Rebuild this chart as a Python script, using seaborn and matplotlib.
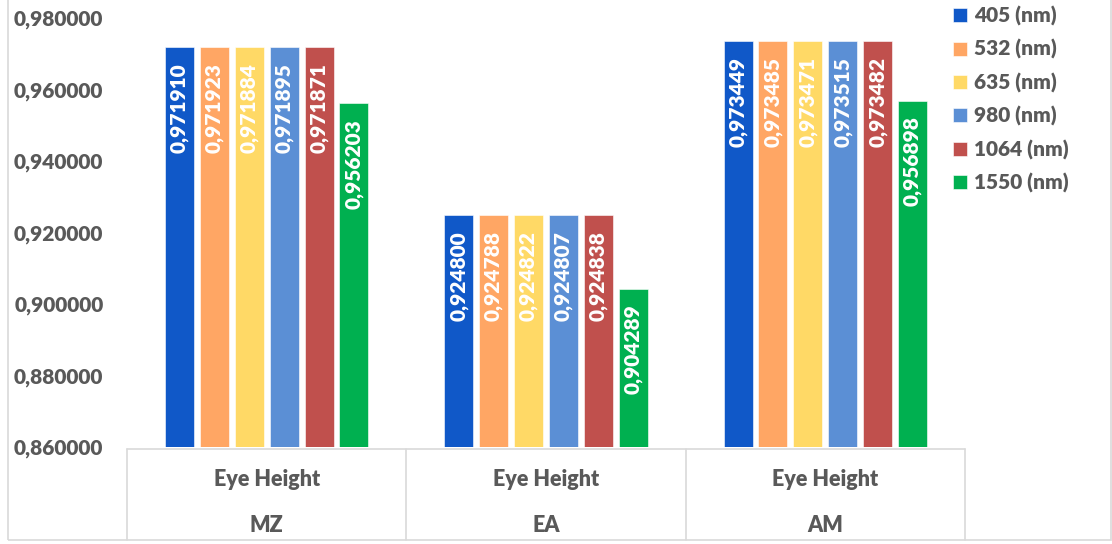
import numpy as np
import pandas as pd
import matplotlib
matplotlib.use("Agg")
import matplotlib.pyplot as plt
from matplotlib.patches import Rectangle
from matplotlib.lines import Line2D
import seaborn as sns

# Eye height per modulation format and laser wavelength
groups = ["MZ", "EA", "AM"]
subgroup = "Eye Height"
wavelengths = ["405 (nm)", "532 (nm)", "635 (nm)", "980 (nm)", "1064 (nm)", "1550 (nm)"]
mz_values = [0.971910, 0.971923, 0.971884, 0.971895, 0.971871, 0.956203]
ea_values = [0.924800, 0.924788, 0.924822, 0.924807, 0.924838, 0.904289]
am_values = [0.973449, 0.973485, 0.973471, 0.973515, 0.973482, 0.956898]
colors = ["#1058C8", "#FFA664", "#FFD966", "#5B8FD5", "#C0504D", "#00B050"]
y_ticks = [0.86, 0.88, 0.90, 0.92, 0.94, 0.96, 0.98]

series = {"MZ": mz_values, "EA": ea_values, "AM": am_values}
df = pd.DataFrame(
    [(g, w, v) for g in groups for w, v in zip(wavelengths, series[g])],
    columns=["group", "wavelength", "value"],
)

sns.set_style("white")
plt.rcParams["font.family"] = ["Lato", "DejaVu Sans"]
WEIGHT = "heavy"
plt.rcParams["font.weight"] = WEIGHT
TEXT = "#595959"
GRID = "#D9D9D9"

W, H = 1112, 544
fig = plt.figure(figsize=(W / 100, H / 100), dpi=100)
ax = fig.add_axes([127 / W, 97 / H, 838 / W, 429 / H])

sns.barplot(data=df, x="group", y="value", hue="wavelength",
            order=groups, hue_order=wavelengths, palette=colors,
            width=0.75, gap=0.17, ax=ax, errorbar=None, saturation=1,
            edgecolor="white", linewidth=0.4)

ax.set_ylim(0.86, 0.98)
ax.set_xlim(-0.5, 2.5)
ax.set_yticks(y_ticks)
ax.set_yticklabels([f"{v:.6f}".replace(".", ",") for v in y_ticks],
                   fontsize=15, fontweight=WEIGHT, color=TEXT)
ax.tick_params(axis="y", length=0, pad=17)
ax.set_xticks([])
ax.set_xlabel("")
ax.set_ylabel("")
for s in ax.spines.values():
    s.set_visible(False)

# value labels inside the top of each bar
for container, w in zip(ax.containers, wavelengths):
    for bar, g in zip(container, groups):
        v = series[g][wavelengths.index(w)]
        ax.annotate(f"{v:.6f}".replace(".", ","),
                    (bar.get_x() + bar.get_width() / 2, v),
                    xytext=(0, -11.5), textcoords="offset points",
                    rotation=90, ha="center", va="top",
                    color="white", fontsize=15, fontweight=WEIGHT)

# two-level category table under the plot area
def fy(px):
    return 1 - px / H

bt = matplotlib.transforms.blended_transform_factory(ax.transData, fig.transFigure)
for xb in [-0.5, 0.5, 1.5, 2.5]:
    fig.add_artist(Line2D([xb, xb], [fy(449), fy(540)], transform=bt,
                          color=GRID, lw=1.2))
fig.add_artist(Line2D([-0.5, 2.5], [fy(449), fy(449)], transform=bt,
                      color=GRID, lw=1.2))
for i, g in enumerate(groups):
    fig.text(i, fy(480), subgroup, transform=bt, ha="center", va="center",
             fontsize=15.5, fontweight=WEIGHT, color=TEXT)
    fig.text(i, fy(525), g, transform=bt, ha="center", va="center",
             fontsize=15.5, fontweight=WEIGHT, color=TEXT)

# chart border
fig.add_artist(Rectangle((8 / W, 4 / H), (1111 - 8) / W, 1.0,
                         transform=fig.transFigure, fill=False,
                         edgecolor=GRID, lw=1.2))

# legend to the right
leg = ax.get_legend()
handles = leg.legend_handles
labels = [t.get_text() for t in leg.get_texts()]
leg.remove()
fig.legend(handles, labels, loc="upper left",
           bbox_to_anchor=(953 / W, fy(6)), frameon=False,
           prop={"family": "Lato", "weight": WEIGHT, "size": 15},
           labelcolor=TEXT, handlelength=0.67, handleheight=0.67,
           handletextpad=0.35, labelspacing=0.64, borderpad=0,
           borderaxespad=0)

fig.savefig("out.png", dpi=100, facecolor="white")
